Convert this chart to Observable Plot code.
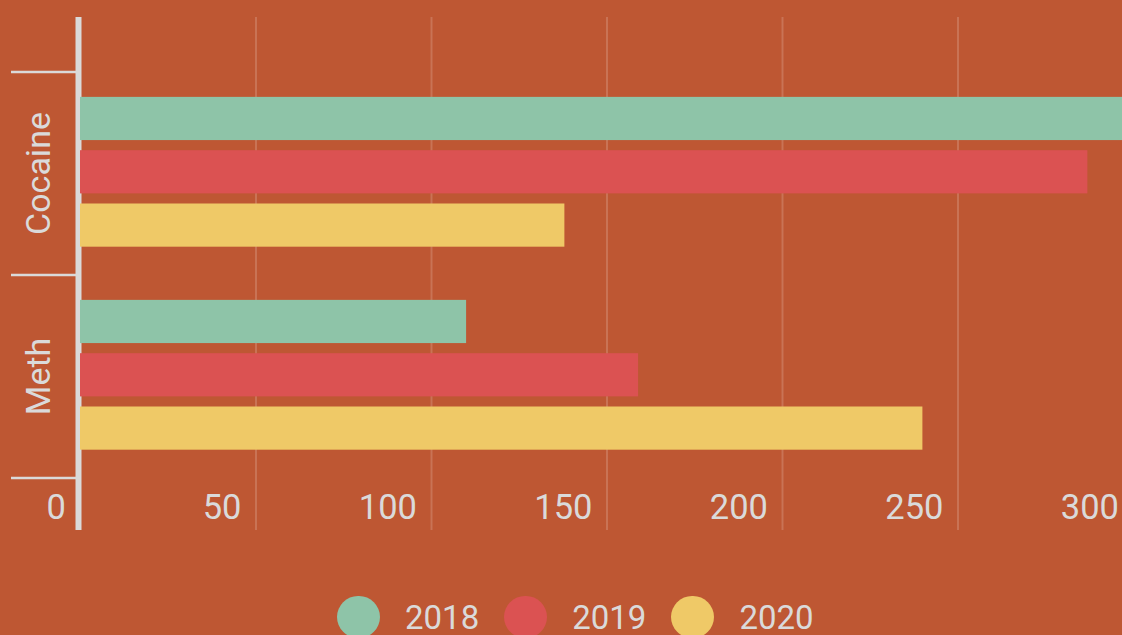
<!DOCTYPE html>
<html>
<head>
<meta charset="utf-8">
<script src="https://cdn.jsdelivr.net/npm/d3@7"></script>
<script src="https://cdn.jsdelivr.net/npm/@observablehq/plot@0.6"></script>
<style>
  html, body { margin: 0; padding: 0; background: #BE5733; overflow: hidden; width: 1122px; height: 635px; }
  #chart { width: 1122px; overflow: hidden; }
  #chart svg { display: block; overflow: hidden; }
  #legend { display: flex; align-items: center; height: 42px; margin-left: 337px; margin-top: 2px; font-family: Roboto, sans-serif; font-size: 33px; color: #DADADA; }
  .item { display: flex; align-items: center; margin-right: 25px; }
  .dot { width: 42.5px; height: 42.5px; border-radius: 50%; margin-right: 25.5px; }
</style>
</head>
<body>
<div id="chart"></div>
<div id="legend"></div>
<script>
const drugs = ["Cocaine", "Meth"];
const years = ["2018", "2019", "2020"];
const values2018 = [300, 110];
const values2019 = [287, 159];
const values2020 = [138, 240];
const xTicks = [0, 50, 100, 150, 200, 250, 300];
const colors = ["#8EC4A8", "#DB5252", "#EFC967"];
const textColor = "#DADADA";

const series = [values2018, values2019, values2020];
const rows = years.flatMap((yr, j) => drugs.map((dr, i) => ({drug: dr, year: yr, value: series[j][i], di: i, yi: j})));
const bounds = d3.range(drugs.length + 1);

const barOffset = 0.125, barStep = 0.2626, barH = 0.2128;

const chart = Plot.plot({
  width: 1122,
  height: 594,
  marginLeft: 80,
  marginRight: 0,
  marginTop: 17,
  marginBottom: 64,
  style: {background: "#BE5733", fontFamily: "Roboto, sans-serif", overflow: "hidden"},
  x: {domain: [0, 300], range: [80, 1133], axis: null},
  y: {domain: [0, drugs.length], range: [71.5, 477.5], axis: null},
  color: {domain: years, range: colors},
  marks: [
    Plot.ruleX(xTicks.filter(d => d > 0), {x: d => d, stroke: "rgba(255,255,255,0.17)", strokeWidth: 2}),
    Plot.ruleX([0], {x: d => d, stroke: textColor, strokeWidth: 6, dx: -2}),
    Plot.rect(rows, {
      x1: () => 0,
      x2: "value",
      y1: d => d.di + barOffset + d.yi * barStep,
      y2: d => d.di + barOffset + d.yi * barStep + barH,
      fill: "year"
    }),
    Plot.axisY({ticks: bounds, tickSize: 69, tickFormat: () => "", stroke: textColor, strokeWidth: 2.5, anchor: "left"}),
    Plot.text(drugs, {y: (d, i) => i + 0.5, text: d => d, frameAnchor: "left", dx: -41, rotate: -90, textAnchor: "middle", lineAnchor: "middle", fontSize: 34, fill: textColor}),
    Plot.text(xTicks, {x: d => d, text: d => String(d), frameAnchor: "bottom", dy: -23, dx: -14.5, textAnchor: "end", lineAnchor: "middle", fontSize: 34.5, fill: textColor})
  ]
});
document.getElementById("chart").appendChild(chart);

const legend = document.getElementById("legend");
years.forEach((yr, j) => {
  const item = document.createElement("div");
  item.className = "item";
  const dot = document.createElement("span");
  dot.className = "dot";
  dot.style.background = colors[j];
  const label = document.createElement("span");
  label.textContent = yr;
  item.appendChild(dot);
  item.appendChild(label);
  legend.appendChild(item);
});
</script>
</body>
</html>
